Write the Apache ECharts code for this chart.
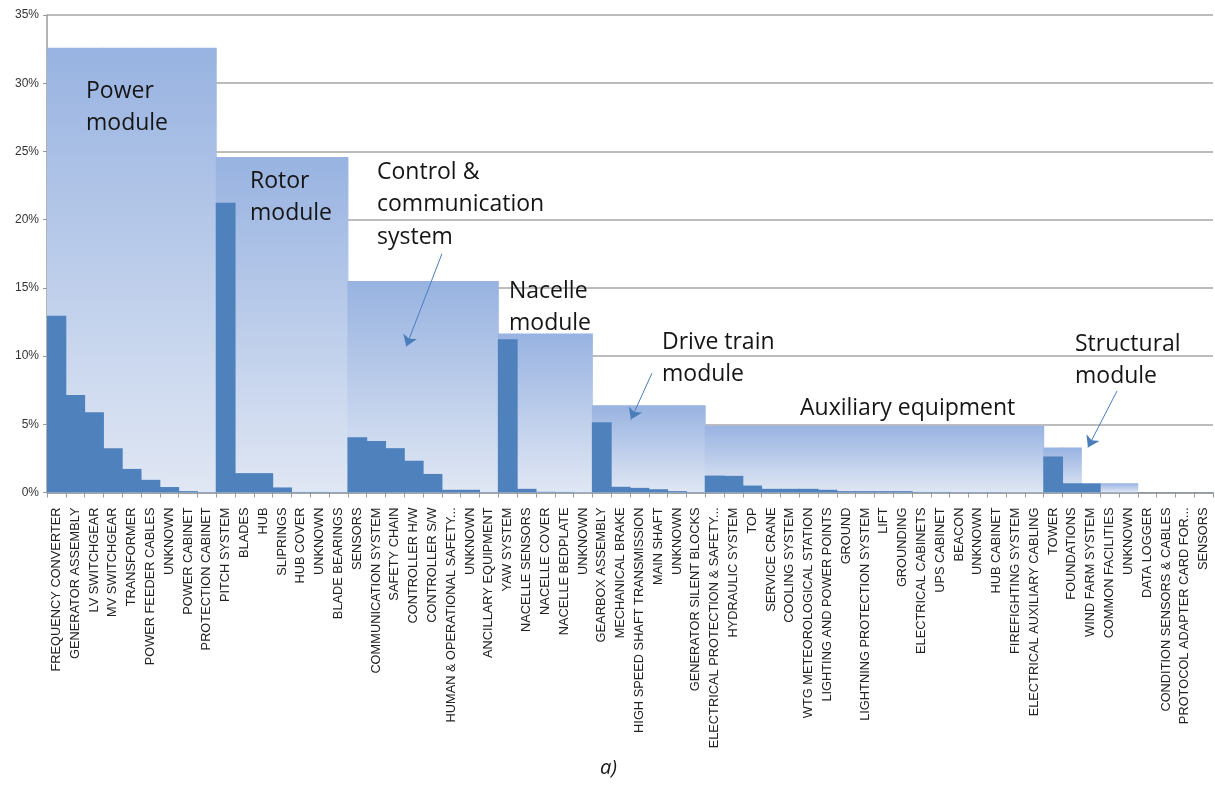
<!DOCTYPE html>
<html>
<head>
<meta charset="utf-8">
<script src="https://cdn.jsdelivr.net/npm/echarts@6/dist/echarts.min.js"></script>
<style>
html,body{margin:0;padding:0;background:#fff;}
#chart{width:1215px;height:787px;}
</style>
</head>
<body>
<div id="chart"></div>
<script>
// ---- data ----
const categories = [
  'FREQUENCY CONVERTER','GENERATOR ASSEMBLY','LV SWITCHGEAR','MV SWITCHGEAR','TRANSFORMER','POWER FEEDER CABLES','UNKNOWN','POWER CABINET','PROTECTION CABINET',
  'PITCH SYSTEM','BLADES','HUB','SLIPRINGS','HUB COVER','UNKNOWN','BLADE BEARINGS',
  'SENSORS','COMMUNICATION SYSTEM','SAFETY CHAIN','CONTROLLER H/W','CONTROLLER S/W','HUMAN & OPERATIONAL SAFETY...','UNKNOWN','ANCILLARY EQUIPMENT',
  'YAW SYSTEM','NACELLE SENSORS','NACELLE COVER','NACELLE BEDPLATE','UNKNOWN',
  'GEARBOX ASSEMBLY','MECHANICAL BRAKE','HIGH SPEED SHAFT TRANSMISSION','MAIN SHAFT','UNKNOWN','GENERATOR SILENT BLOCKS',
  'ELECTRICAL PROTECTION & SAFETY...','HYDRAULIC SYSTEM','TOP','SERVICE CRANE','COOLING SYSTEM','WTG METEOROLOGICAL STATION','LIGHTING AND POWER POINTS','GROUND','LIGHTNING PROTECTION SYSTEM','LIFT','GROUNDING','ELECTRICAL CABINETS','UPS CABINET','BEACON','UNKNOWN','HUB CABINET','FIREFIGHTING SYSTEM','ELECTRICAL AUXILIARY CABLING',
  'TOWER','FOUNDATIONS',
  'WIND FARM SYSTEM','COMMON FACILITIES','UNKNOWN',
  'DATA LOGGER','CONDITION SENSORS & CABLES','PROTOCOL ADAPTER CARD FOR...','SENSORS'
];
const powerValues      = [12.96, 7.15, 5.88, 3.25, 1.73, 0.93, 0.40, 0.10, 0.03];
const rotorValues      = [21.23, 1.42, 1.42, 0.37, 0.04, 0.04, 0.03];
const controlValues    = [4.05, 3.78, 3.25, 2.33, 1.36, 0.20, 0.20, 0.03];
const nacelleValues    = [11.23, 0.27, 0.05, 0.04, 0.02];
const driveValues      = [5.15, 0.42, 0.34, 0.24, 0.10, 0.03];
const auxiliaryValues  = [1.24, 1.22, 0.51, 0.27, 0.27, 0.27, 0.20, 0.10, 0.10, 0.10, 0.10, 0.04, 0.04, 0.03, 0.03, 0.03, 0.02, 0.02];
const structuralValues = [2.64, 0.68];
const otherValues      = [0.66, 0.02, 0.02];
const restValues       = [0.02, 0.02, 0.02, 0.02];

// module groups: number of categories and module total (box height, %)
const moduleNames  = ['Power module','Rotor module','Control & communication system','Nacelle module','Drive train module','Auxiliary equipment','Structural module','Other','None'];
const moduleCounts = [9, 7, 8, 5, 6, 18, 2, 3, 4];
const moduleTotals = [32.6, 24.6, 15.5, 11.65, 6.4, 4.9, 3.3, 0.68, 0];

const yTicks = [0, 5, 10, 15, 20, 25, 30, 35];

// annotation arrows in data space [categoryPosition, percent]
const arrowFrom = [[20.5, 17.5], [31.67, 8.75], [56.4, 7.45]];
const arrowTo   = [[18.6, 10.7], [30.55, 5.35], [54.85, 3.3]];

// ---- build ----
const values = [].concat(powerValues, rotorValues, controlValues, nacelleValues, driveValues,
  auxiliaryValues, structuralValues, otherValues, restValues);
const boxValues = [];
moduleCounts.forEach((n, i) => { for (let k = 0; k < n; k++) boxValues.push(moduleTotals[i]); });

const boxGradient = new echarts.graphic.LinearGradient(0, 0, 0, 1, [
  {offset: 0, color: '#98b3e1'},
  {offset: 1, color: '#e0e7f4'}
]);

const chart = echarts.init(document.getElementById('chart'), null, {renderer: 'canvas'});

const textStyleBig = {fontFamily: '"Open Sans", "Noto Sans", sans-serif', fontSize: 23, lineHeight: 32.5, fill: '#151515'};
function label(x, y, txt) {
  return {type: 'text', left: x, top: y, z: 100, style: Object.assign({text: txt}, textStyleBig)};
}

chart.setOption({
  animation: false,
  backgroundColor: '#ffffff',
  grid: {left: 47, right: 2, top: 15, bottom: 294.5, containLabel: false},
  xAxis: [{
    type: 'category',
    data: categories,
    boundaryGap: true,
    axisLine: {show: true, onZero: false, lineStyle: {color: '#9a9a9a', width: 1.5}},
    axisTick: {show: true, length: 5, lineStyle: {color: '#9a9a9a'}},
    axisLabel: {
      interval: 0, rotate: 90, margin: 15,
      fontFamily: '"Liberation Sans", Arial, sans-serif', fontSize: 12.8, color: '#222'
    },
    splitLine: {show: false}
  }, {
    type: 'value', min: -0.5, max: categories.length - 0.5, show: false
  }],
  yAxis: {
    type: 'value', min: 0, max: 35, interval: 5,
    axisLine: {show: true, onZero: false, lineStyle: {color: '#9a9a9a', width: 1.5}},
    axisTick: {show: true, length: 4, lineStyle: {color: '#9a9a9a'}},
    axisLabel: {formatter: v => yTicks.includes(v) ? v + '%' : '', fontFamily: '"Liberation Sans", Arial, sans-serif', fontSize: 12, color: '#333', margin: 8},
    splitLine: {show: true, lineStyle: {color: '#a6a6a6', width: 1.5}}
  },
  series: [{
    name: 'Module total',
    type: 'bar',
    data: boxValues,
    barWidth: 19.8,
    barGap: '-100%',
    itemStyle: {color: boxGradient},
    z: 2
  }, {
    name: 'Component share',
    type: 'bar',
    data: values,
    barWidth: 19.8,
    barGap: '-100%',
    itemStyle: {color: '#4f81bd'},
    z: 3
  }, {
    type: 'lines',
    coordinateSystem: 'cartesian2d',
    xAxisIndex: 1,
    yAxisIndex: 0,
    symbol: ['none', 'arrow'],
    symbolSize: [0, 11],
    lineStyle: {color: '#4a7ebb', width: 1, opacity: 1, curveness: 0},
    data: arrowFrom.map((f, i) => ({coords: [f, arrowTo[i]]})),
    z: 5
  }],
  graphic: [
    label(86, 75, 'Power\nmodule'),
    label(250, 165, 'Rotor\nmodule'),
    label(377, 156, 'Control &\ncommunication\nsystem'),
    label(509, 275, 'Nacelle\nmodule'),
    label(662, 326, 'Drive train\nmodule'),
    label(800, 392, 'Auxiliary equipment'),
    label(1075, 328, 'Structural\nmodule'),
    {type: 'text', left: 600, top: 758, style: {text: 'a)', fontFamily: '"Open Sans", "Noto Sans", sans-serif', fontSize: 20, fontStyle: 'italic', fill: '#151515'}}
  ]
});
</script>
</body>
</html>
